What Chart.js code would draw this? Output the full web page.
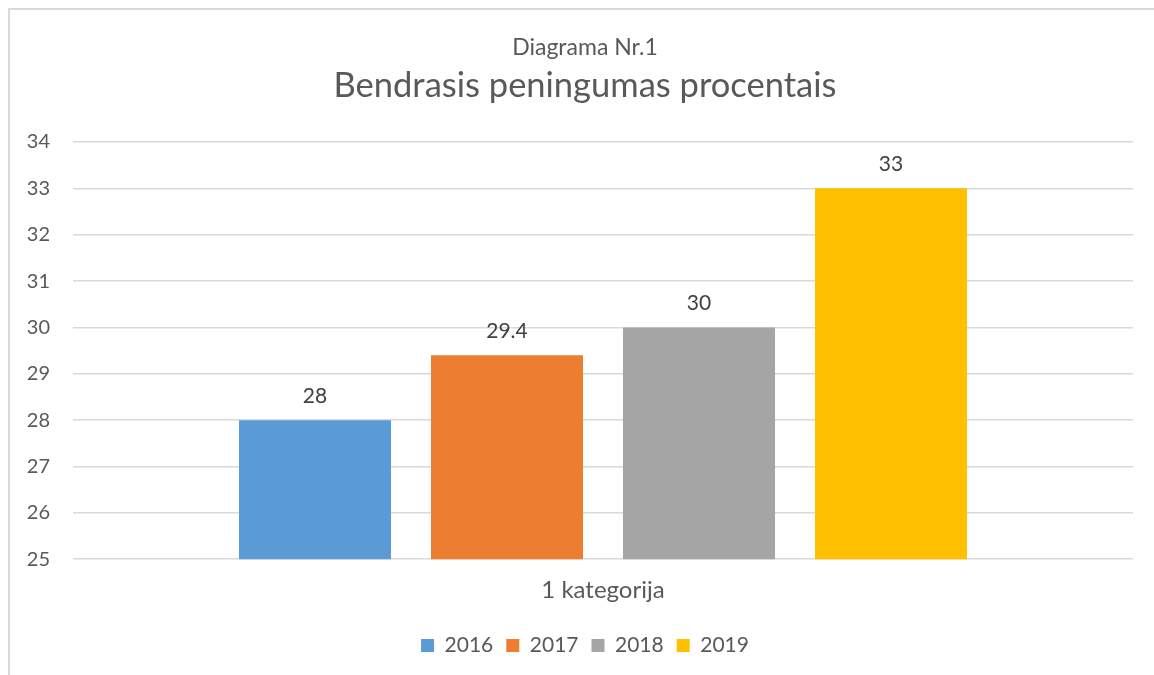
<!DOCTYPE html>
<html><head><meta charset="utf-8">
<script src="https://cdn.jsdelivr.net/npm/chart.js@4.4.1/dist/chart.umd.min.js"></script>
<style>
html,body{margin:0;padding:0;background:#fff;}
#wrap{position:absolute;left:0;top:0;width:1154px;height:675px;}
#frame{position:absolute;left:8px;top:8px;width:1200px;height:700px;border-left:2px solid #d9d9d9;border-top:2px solid #d9d9d9;}
</style></head>
<body>
<div id="frame"></div>
<div id="wrap"><canvas id="c" width="1154" height="675"></canvas></div>
<script>
const categories = ['1 kategorija'];
const seriesNames = ['2016', '2017', '2018', '2019'];
const seriesValues = [[28], [29.4], [30], [33]];
const seriesColors = ['#5B9BD5', '#ED7D31', '#A5A5A5', '#FFC000'];
const yMin = 25, yMax = 34;
const FONT = 'Lato, "Open Sans", sans-serif';

const labelPlugin = {
  id: 'vals',
  afterLayout(chart) {
    // let y tick labels extend into the left padding without clipping
    chart.scales.y.left = 0;
  },
  afterDatasetsDraw(chart) {
    const ctx = chart.ctx;
    ctx.save();
    ctx.font = '21px ' + FONT;
    ctx.fillStyle = '#404040';
    ctx.textAlign = 'center';
    ctx.textBaseline = 'middle';
    chart.data.datasets.forEach((ds, i) => {
      chart.getDatasetMeta(i).data.forEach((bar, j) => {
        ctx.fillText(String(ds.data[j]), bar.x, bar.y - 24);
      });
    });
    ctx.restore();
  }
};

new Chart(document.getElementById('c'), {
  type: 'bar',
  data: {
    labels: categories,
    datasets: seriesNames.map((n, i) => ({
      label: n, data: seriesValues[i], backgroundColor: seriesColors[i],
      categoryPercentage: 0.7245, barPercentage: 0.7917
    }))
  },
  options: {
    responsive: false, animation: false,
    layout: { padding: { left: 37, right: 21, top: 0, bottom: 9 } },
    plugins: {
      title: { display: true, text: 'Diagrama Nr.1', color: '#595959',
        font: { family: FONT, size: 23, weight: 'normal' }, padding: { top: 34, bottom: 4 } },
      subtitle: { display: true, text: 'Bendrasis peningumas procentais', color: '#595959',
        font: { family: FONT, size: 34.5, weight: 'normal' }, padding: { top: 0, bottom: 35 } },
      legend: { position: 'bottom',
        labels: { boxWidth: 13, boxHeight: 13, padding: 13, color: '#595959',
          font: { family: FONT, size: 21 } } },
      tooltip: { enabled: false }
    },
    scales: {
      x: { grid: { display: false }, border: { display: false },
        afterFit(s) { s.height += 8; },
        ticks: { color: '#595959', padding: 9, font: { family: FONT, size: 24 } } },
      y: { min: yMin, max: yMax,
        afterFit(s) { s.width = 36; },
        grid: { color: '#d9d9d9', lineWidth: 1.5, drawTicks: false },
        border: { display: false },
        ticks: { stepSize: 1, padding: 23, color: '#595959', font: { family: FONT, size: 20 } } }
    }
  },
  plugins: [labelPlugin]
});
</script>
</body></html>
